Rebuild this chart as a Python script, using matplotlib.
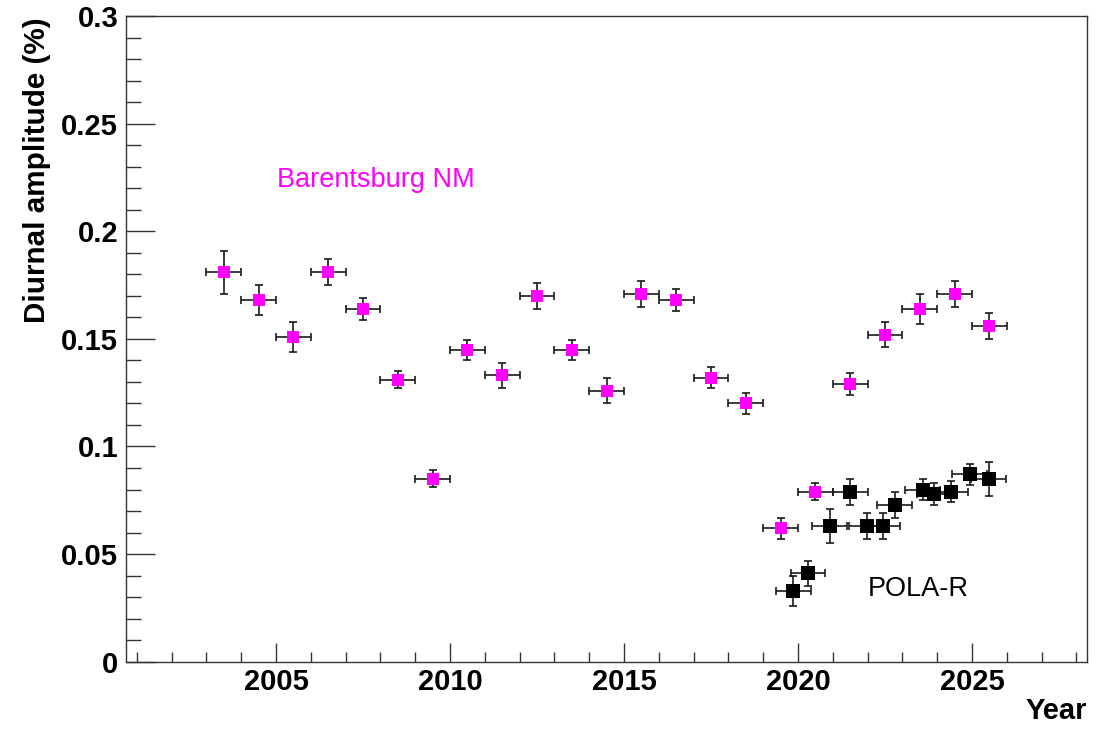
import matplotlib
matplotlib.use("Agg")
import matplotlib.pyplot as plt
from matplotlib.ticker import MultipleLocator

plt.rcParams['font.family'] = ['Liberation Sans', 'DejaVu Sans']

# Barentsburg neutron monitor, yearly diurnal amplitude
bar_year = [2003.5, 2004.5, 2005.5, 2006.5, 2007.5, 2008.5, 2009.5, 2010.5,
            2011.5, 2012.5, 2013.5, 2014.5, 2015.5, 2016.5, 2017.5, 2018.5,
            2019.5, 2020.5, 2021.5, 2022.5, 2023.5, 2024.5, 2025.5]
bar_amp = [0.181, 0.168, 0.151, 0.181, 0.164, 0.131, 0.085, 0.145,
           0.133, 0.170, 0.145, 0.126, 0.171, 0.168, 0.132, 0.120,
           0.062, 0.079, 0.129, 0.152, 0.164, 0.171, 0.156]
bar_err = [0.010, 0.007, 0.007, 0.006, 0.005, 0.004, 0.004, 0.0046,
           0.006, 0.006, 0.0046, 0.006, 0.006, 0.005, 0.005, 0.005,
           0.005, 0.004, 0.005, 0.006, 0.007, 0.006, 0.006]
bar_xerr = [0.5] * len(bar_year)

# POLA-R detector
pola_year = [2019.87, 2020.29, 2020.91, 2021.50, 2021.98, 2022.44,
             2022.78, 2023.58, 2023.92, 2024.40, 2024.93, 2025.48]
pola_amp = [0.033, 0.041, 0.063, 0.079, 0.063, 0.063,
            0.073, 0.080, 0.078, 0.079, 0.087, 0.085]
pola_err = [0.007, 0.0057, 0.008, 0.006, 0.006, 0.006,
            0.006, 0.005, 0.005, 0.005, 0.005, 0.008]
pola_xerr = [0.5] * len(pola_year)

fig = plt.figure(figsize=(11.15, 7.29), dpi=100)
ax = fig.add_axes([0.113, 0.0923, 0.862, 0.8857])

# error bars first, square markers on top
eb = dict(fmt='none', ecolor='#1a1a1a', elinewidth=1.2,
          capsize=2.6, capthick=1.2)
ax.errorbar(bar_year, bar_amp, yerr=bar_err, xerr=bar_xerr, zorder=2, **eb)
ax.errorbar(pola_year, pola_amp, yerr=pola_err, xerr=pola_xerr, zorder=4, **eb)
ax.plot(bar_year, bar_amp, 's', color='#ff00ff', markersize=8.0,
        markeredgewidth=0, zorder=3)
ax.plot(pola_year, pola_amp, 's', color='black', markersize=9.8,
        markeredgewidth=0, zorder=5)

ax.set_xlim(2000.69, 2028.31)
ax.set_ylim(0, 0.3)

ax.xaxis.set_major_locator(MultipleLocator(5))
ax.xaxis.set_minor_locator(MultipleLocator(1))
ax.yaxis.set_major_locator(MultipleLocator(0.05))
ax.yaxis.set_minor_locator(MultipleLocator(0.01))
ax.set_yticks([0, 0.05, 0.1, 0.15, 0.2, 0.25, 0.3])
ax.set_yticklabels(['0', '0.05', '0.1', '0.15', '0.2', '0.25', '0.3'])
ax.set_xticks([2005, 2010, 2015, 2020, 2025])

ax.tick_params(axis='both', which='both', direction='in', top=False,
               right=False, color='#333333', width=1.0)
ax.tick_params(axis='y', which='major', length=21, pad=5.6)
ax.tick_params(axis='y', which='minor', length=10.8)
ax.tick_params(axis='x', which='major', length=13.7, pad=4.5)
ax.tick_params(axis='x', which='minor', length=7.2)
for lbl in ax.get_xticklabels() + ax.get_yticklabels():
    lbl.set_fontsize(21)
    lbl.set_fontweight('bold')

for sp in ax.spines.values():
    sp.set_color('#333333')
    sp.set_linewidth(1.0)

ax.text(2005.03, 0.2206, 'Barentsburg NM', color='#ff00ff', fontsize=19.5,
        ha='left', va='baseline')
ax.text(2022.02, 0.0305, 'POLA-R', color='black', fontsize=19.5,
        ha='left', va='baseline')

fig.text(0.0335, 1 - 17 / 729, 'Diurnal amplitude (%)', rotation=90,
         ha='center', va='top', fontsize=21.3, fontweight='bold')
fig.text(1087 / 1115, 1 - 719 / 729, 'Year', ha='right', va='baseline',
         fontsize=21, fontweight='bold')

fig.savefig('out.png', dpi=100, facecolor='white')
